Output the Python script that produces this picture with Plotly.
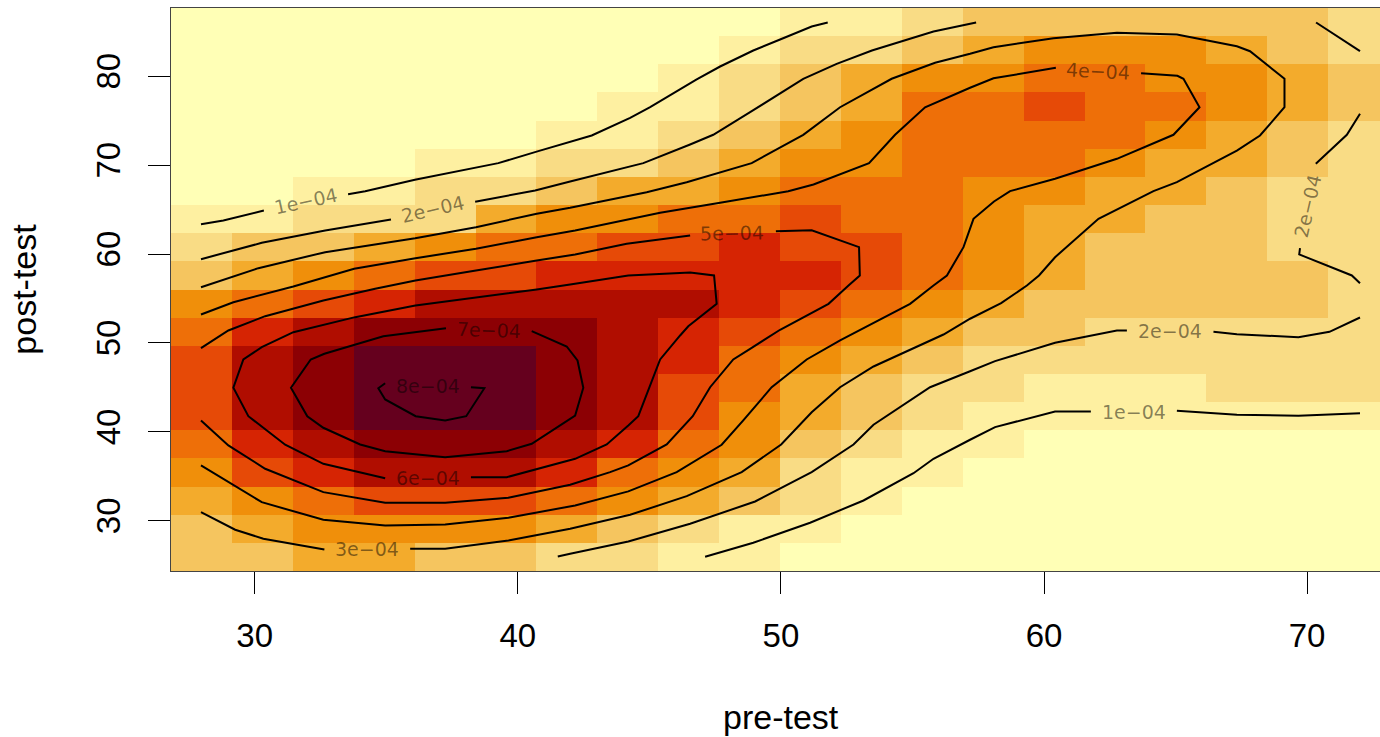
import numpy as np
import plotly.graph_objects as go

# Density bin, top row first, as ordered colour class 0 (lowest) to 11 (highest)
density_class = [
    [0,0,0,0,0,0,0,0,0,0,1,1,2,3,3,3,3,3,3,2],
    [0,0,0,0,0,0,0,0,0,1,2,2,3,4,5,5,5,4,3,2],
    [0,0,0,0,0,0,0,0,1,2,3,4,5,5,6,6,5,5,4,3],
    [0,0,0,0,0,0,0,1,1,2,3,4,6,6,7,6,6,5,4,3],
    [0,0,0,0,0,0,1,1,2,3,4,5,6,6,6,6,5,4,3,2],
    [0,0,0,0,1,1,2,2,3,4,5,5,6,6,6,5,4,4,3,2],
    [0,0,1,1,2,2,3,4,4,5,6,6,6,5,5,4,4,3,2,2],
    [1,1,2,2,2,4,5,5,6,6,7,6,6,5,4,4,3,3,2,2],
    [2,3,3,4,5,6,6,7,7,8,7,7,6,5,4,3,3,3,2,2],
    [3,4,5,6,7,7,8,8,8,8,8,7,6,5,4,3,3,3,3,2],
    [5,6,7,8,9,9,9,9,9,8,7,6,5,4,3,3,3,3,3,2],
    [6,8,9,10,10,10,10,9,8,7,6,5,4,3,3,2,2,2,2,2],
    [7,9,10,11,11,11,10,9,8,6,5,4,3,2,2,2,2,2,2,2],
    [7,9,10,11,11,11,10,9,7,6,4,3,2,2,1,1,1,2,2,2],
    [7,9,10,11,11,11,10,9,7,5,4,3,2,1,1,1,1,1,1,1],
    [6,8,9,10,10,10,9,8,6,5,3,2,1,1,0,0,0,0,0,0],
    [5,7,8,9,9,9,8,6,5,4,2,1,1,0,0,0,0,0,0,0],
    [4,5,6,7,7,7,6,5,4,3,2,1,0,0,0,0,0,0,0,0],
    [3,4,5,5,5,5,4,3,2,1,1,0,0,0,0,0,0,0,0,0],
    [3,3,4,4,3,3,2,2,1,1,0,0,0,0,0,0,0,0,0,0],
]
class_colours = ["#FFFFB6","#FEF0A1","#F9DC85","#F5C55F","#F3AB2C","#F08F0A",
                 "#EE6F08","#E64A07","#D62403","#B00D00","#8C0004","#65001E"]
pre_edges = np.linspace(26.82, 73.12, 21)
post_edges = np.linspace(24.35, 87.67, 21)

c1_upper_a = [(27.96,63.36),(28.81,63.77),(30.35,64.90)]
c1_upper_b = [(33.55,66.73),(34.20,67.07),(36.09,68.35),(39.26,70.22),(40.78,71.57),(42.81,73.33),
              (44.27,75.32),(45.03,76.51),(46.80,79.63),(47.69,81.09),(48.95,82.89),(49.97,84.13),
              (51.17,85.59),(51.78,86.04)]
c1_lower_a = [(47.12,25.95),(48.95,27.53),(51.11,29.78),(53.14,32.28),(55.04,35.35),(55.80,36.97),
              (57.19,39.11),(58.14,40.53),(60.42,42.29),(61.78,42.29)]
c1_lower_b = [(65.05,42.37),(67.33,41.92),(69.67,41.81),(72.01,42.10)]
c2_upper_a = [(27.96,59.42),(30.27,61.26),(32.68,62.65),(35.18,63.89)]
c2_upper_b = [(38.38,65.87),(40.66,67.15),(41.99,68.16),(44.77,70.22),(46.55,72.32),(47.43,73.41),
              (48.83,75.95),(50.85,79.71),(52.12,81.39),(53.46,82.89),(55.80,85.03),(57.42,86.04)]
c2_lower_a = [(41.52,25.99),(41.99,26.29),(44.20,27.67),(46.55,29.66),(49.02,32.17),(51.17,35.47),
              (52.76,38.58),(53.52,40.80),(55.67,45.02),(57.19,46.82),(58.14,47.95),(60.42,50.02),
              (62.77,51.40),(63.15,51.40)]
c2_lower_b = [(66.44,51.25),(67.33,50.98),(69.67,50.65),(70.85,51.25),(72.01,52.86)]
c2_right_a = [(70.34,86.04),(72.01,82.81)]
c2_right_b = [(72.01,75.77),(71.51,73.41),(70.33,70.15)]
c2_right_c = [(69.73,60.66),(69.70,59.95),(71.70,57.59),(72.01,56.72)]
c3_a = [(27.96,30.97),(29.26,28.99),(30.33,27.98),(32.65,26.77)]
c3_b = [(35.91,26.85),(37.24,26.85),(39.64,27.78),(41.99,29.10),(44.27,30.67),(46.42,32.77),
        (48.51,35.47),(50.01,38.58),(51.17,42.21),(52.25,45.02),(53.52,47.35),(56.18,50.95),
        (57.19,52.72),(58.37,54.47),(59.35,56.46),(59.81,57.59),(60.42,59.64),(62.07,63.96),
        (64.16,67.07),(65.05,68.08),(67.33,71.64),(68.21,73.33),(69.14,76.51),(69.14,79.71),
        (67.83,82.81),(67.33,83.37),(65.05,84.69),(62.77,84.88),(60.36,84.27),(58.08,83.26),
        (57.19,82.52),(55.86,81.51),(54.21,79.71),(52.25,76.51),(50.85,73.41),(48.89,70.22),
        (46.42,68.08),(44.90,66.95),(41.99,65.20),(40.72,64.53),(38.41,63.02),(36.10,61.78),
        (32.68,60.21),(30.14,58.41),(27.96,56.27)]
c4_a = [(27.96,53.20),(29.19,54.58),(31.47,56.35),(33.78,58.34),(36.11,59.53),(38.41,60.59),
        (40.72,61.89),(42.18,62.65),(45.41,64.64),(47.69,65.76),(50.28,67.07),(51.24,67.82),
        (53.35,70.22),(54.34,73.41),(55.48,76.51),(57.19,78.70),(58.08,79.77),(60.45,80.94)]
c4_b = [(63.69,80.34),(65.07,80.05),(65.30,79.71),(65.91,76.51),(64.92,73.41),(62.77,70.71),
        (60.42,68.46),(58.71,67.07),(58.10,65.91),(57.32,63.96),(56.94,60.77),(56.31,57.59),
        (55.80,56.46),(54.91,54.40),(52.25,50.28),(50.98,48.14),(49.65,45.02),(48.57,41.28),
        (47.75,38.55),(46.04,35.47),(44.20,33.30),(42.18,31.72),(39.64,30.34),(37.24,29.58),
        (34.96,29.47),(32.61,30.11),(30.27,32.09),(27.96,36.22)]
c5_a = [(27.96,49.41),(29.00,51.40),(30.40,53.01),(32.61,54.77),(34.58,56.09),(36.11,57.02),
        (38.41,58.15),(40.72,59.27),(42.18,59.95),(44.14,61.15),(46.55,62.08)]
c5_b = [(49.81,62.57),(51.17,62.68),(52.97,60.77),(53.00,57.59),(52.57,56.46),(51.81,54.40),
        (49.97,51.48),(48.83,49.34),(48.19,48.14),(47.31,45.02),(46.65,41.76),(45.66,38.58),
        (44.20,36.22),(43.51,35.47),(41.99,34.05),(39.64,32.59),(37.24,32.02),(34.96,32.02),
        (32.61,33.22),(30.40,35.85),(29.00,38.47),(27.96,41.28)]
c6 = [(38.22,34.90),(39.58,34.90),(42.18,36.97),(43.38,38.58),(44.20,40.72),(44.58,41.76),
      (45.41,48.14),(46.17,50.84),(46.48,51.88),(47.56,54.40),(47.46,57.59),(46.55,57.92),
      (44.20,57.59),(41.99,56.57),(40.72,56.01),(36.11,54.21),(33.82,52.90),(31.47,51.21),
      (30.27,49.52),(29.57,48.14),(29.19,44.96),(29.76,41.76),(31.16,38.55),(32.61,36.41),
      (34.96,34.79)]
c7 = [(40.53,51.32),(41.86,49.60),(42.27,48.03),(42.49,44.96),(42.18,41.84),(40.53,38.66),
      (39.58,37.83),(37.24,37.15),(34.96,37.83),(34.01,38.58),(32.61,40.46),(32.00,41.76),
      (31.38,44.96),(32.13,48.14),(32.65,48.78),(34.89,50.76),(37.27,51.66)]
c8 = [(34.96,45.47),(34.70,44.91),(34.96,43.64),(36.12,41.76),(37.24,41.28),(38.04,41.76),
      (38.73,44.91),(38.22,45.03)]
contour_segments = [c1_upper_a,c1_upper_b,c1_lower_a,c1_lower_b,c2_upper_a,c2_upper_b,c2_lower_a,
                    c2_lower_b,c2_right_a,c2_right_b,c2_right_c,c3_a,c3_b,c4_a,c4_b,c5_a,c5_b,c6,c7,c8]

label_text = ["1e\u221204","2e\u221204","5e\u221204","4e\u221204","2e\u221204","7e\u221204",
              "8e\u221204","6e\u221204","3e\u221204","2e\u221204","1e\u221204"]
label_x = [31.95,36.78,48.14,62.06,70.03,38.92,36.60,36.60,34.28,64.79,63.42]
label_y = [65.91,65.01,62.31,80.53,65.38,51.48,45.14,34.84,26.77,51.30,42.26]
label_angle = [-12,-13,-1,3,-77,2,0,0,0,0,0]

x_ticks = [30,40,50,60,70]
y_ticks = [30,40,50,60,70,80]

n = len(class_colours) - 1
fig = go.Figure()
fig.add_trace(go.Heatmap(
    x=pre_edges, y=post_edges, z=density_class[::-1], zmin=0, zmax=n, showscale=False,
    colorscale=[[i / n, c] for i, c in enumerate(class_colours)], hoverinfo="skip"))
for seg in contour_segments:
    xs, ys = zip(*seg)
    fig.add_trace(go.Scatter(x=xs, y=ys, mode="lines", showlegend=False,
                             line=dict(color="black", width=2, simplify=False), hoverinfo="skip"))
for t, x, y, a in zip(label_text, label_x, label_y, label_angle):
    fig.add_annotation(x=x, y=y, text=t, textangle=a, showarrow=False,
                       font=dict(family="DejaVu Sans", size=19, color="rgba(0,0,0,0.48)"))

tick_font = dict(family="Liberation Sans", size=33, color="black")
title_font = dict(family="Liberation Sans", size=34, color="black")
fig.add_annotation(xref="paper", yref="paper", x=0.5045, y=-0.2595, text="pre-test", showarrow=False,
                   xanchor="center", yanchor="middle", font=title_font)
fig.update_layout(
    width=1380, height=737, margin=dict(l=171, r=0, t=8, b=166),
    paper_bgcolor="white", plot_bgcolor="white", showlegend=False,
    xaxis=dict(range=[26.82, 72.77], tickvals=x_ticks, ticks="outside", ticklen=22, tickwidth=1.4,
               tickcolor="black", showgrid=False, zeroline=False, showline=True, linecolor="#444",
               linewidth=1, mirror=True, tickfont=tick_font, ticklabelstandoff=13),
    yaxis=dict(range=[24.35, 87.67], tickvals=y_ticks, ticks="outside", ticklen=22, tickwidth=1.4,
               tickcolor="black", showgrid=False, zeroline=False, showline=True, linecolor="#444",
               linewidth=1, tickangle=-90, tickfont=tick_font, ticklabelstandoff=15,
               title=dict(text="post-test", font=title_font, standoff=42)),
)
fig.write_html("out.html", config={"displayModeBar": False},
               post_script="document.body.style.margin='0';document.body.style.overflow='hidden';")
